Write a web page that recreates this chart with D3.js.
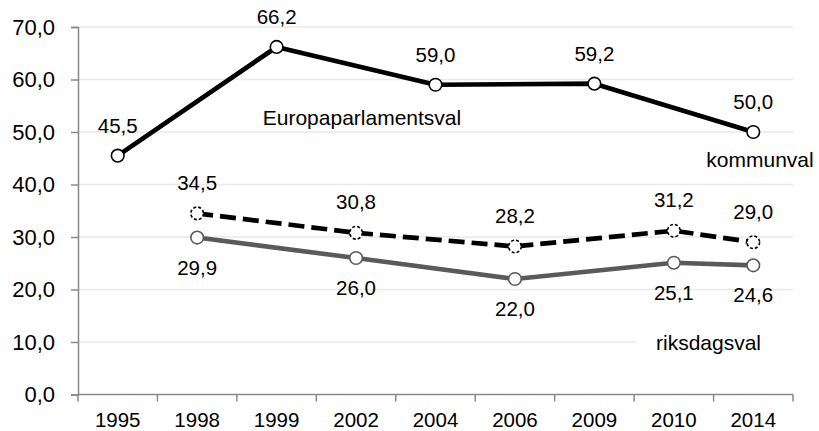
<!DOCTYPE html>
<html><head><meta charset="utf-8">
<script src="https://cdn.jsdelivr.net/npm/d3@7"></script>
<style>body{margin:0;background:#fff}svg{display:block}text{font-family:"Liberation Sans",Arial,sans-serif;fill:#000}</style>
</head><body>
<svg id="c" width="819" height="431"></svg>
<script>
const years = ["1995","1998","1999","2002","2004","2006","2009","2010","2014"];
const yTicks = [0,10,20,30,40,50,60,70];
const euYears = ["1995","1999","2004","2009","2014"];
const euValues = [45.5,66.2,59.0,59.2,50.0];
const komYears = ["1998","2002","2006","2010","2014"];
const komValues = [34.5,30.8,28.2,31.2,29.0];
const riksYears = ["1998","2002","2006","2010","2014"];
const riksValues = [29.9,26.0,22.0,25.1,24.6];
const seriesNames = ["Europaparlamentsval","kommunval","riksdagsval"];

const svg = d3.select("#c");
const pLeft = 78, pRight = 793, pTop = 27, pBottom = 394.5;
const x = d3.scaleBand().domain(years).range([pLeft, pRight]);
const y = d3.scaleLinear().domain([0,70]).range([pBottom, pTop]);
const cx = d => x(d) + x.bandwidth()/2;
const fmt = v => d3.format(".1f")(v).replace(".", ",");

// gridlines
svg.append("g").selectAll("line").data(yTicks.filter(t=>t>0)).join("line")
  .attr("x1", pLeft).attr("x2", pRight).attr("y1", d=>y(d)).attr("y2", d=>y(d))
  .attr("stroke", "#e9e9e9").attr("stroke-width", 1.3);

// axes
const ya = svg.append("g").attr("transform", `translate(${pLeft},0)`)
  .call(d3.axisLeft(y).tickValues(yTicks).tickSize(7).tickPadding(16).tickFormat(fmt));
ya.select(".domain").attr("stroke", "#888").attr("stroke-width", 1.5);
ya.selectAll(".tick line").attr("stroke", "#888").attr("stroke-width", 1.5);
ya.selectAll(".tick text").style("font-size", "22px").attr("fill", "#000")
  .style("font-family", "'Liberation Sans', Arial, sans-serif");

const xa = svg.append("g").attr("transform", `translate(0,${pBottom})`);
xa.append("line").attr("x1", pLeft).attr("x2", pRight).attr("stroke", "#888").attr("stroke-width", 1.5);
const bounds = years.map(d=>x(d)).concat([pRight]);
xa.selectAll("line.t").data(bounds).join("line").attr("class","t")
  .attr("x1", d=>d).attr("x2", d=>d).attr("y1", 0).attr("y2", 7)
  .attr("stroke", "#888").attr("stroke-width", 1.5);
xa.selectAll("text").data(years).join("text")
  .attr("x", d=>cx(d)).attr("y", 32.5).attr("text-anchor","middle")
  .style("font-size","20.5px").text(d=>d);

const line = d3.line().x(d=>cx(d[0])).y(d=>y(d[1]));
function series(ys, vs, color, dash, labelDy) {
  const data = ys.map((d,i)=>[d, vs[i]]);
  svg.append("path").datum(data).attr("d", line).attr("fill","none")
    .attr("stroke", color).attr("stroke-width", 4.7).attr("stroke-linejoin","round")
    .attr("stroke-dasharray", dash ? "16,7" : null);
  svg.append("g").selectAll("circle").data(data).join("circle")
    .attr("cx", d=>cx(d[0])).attr("cy", d=>y(d[1])).attr("r", 6.3)
    .attr("fill", "#fff").attr("stroke", color).attr("stroke-width", 1.6)
    .attr("stroke-dasharray", dash ? "3,2" : null);
  svg.append("g").selectAll("text").data(data).join("text")
    .attr("x", d=>cx(d[0])).attr("y", d=>y(d[1]) + labelDy)
    .attr("text-anchor","middle").style("font-size","20.5px").text(d=>fmt(d[1]));
}
series(riksYears, riksValues, "#5a5a5a", false, 37);
series(komYears, komValues, "#000", true, -23.5);
series(euYears, euValues, "#000", false, -23);

// series name labels
svg.append("rect").attr("x", 636).attr("y", 328).attr("width", 160).attr("height", 30).attr("fill", "#fff");
svg.append("text").attr("x", 362).attr("y", 125).attr("text-anchor","middle").style("font-size","21px").text(seriesNames[0]);
svg.append("text").attr("x", 760).attr("y", 167).attr("text-anchor","middle").style("font-size","21px").text(seriesNames[1]);
svg.append("text").attr("x", 708.5).attr("y", 350).attr("text-anchor","middle").style("font-size","21px").text(seriesNames[2]);
</script>
</body></html>
